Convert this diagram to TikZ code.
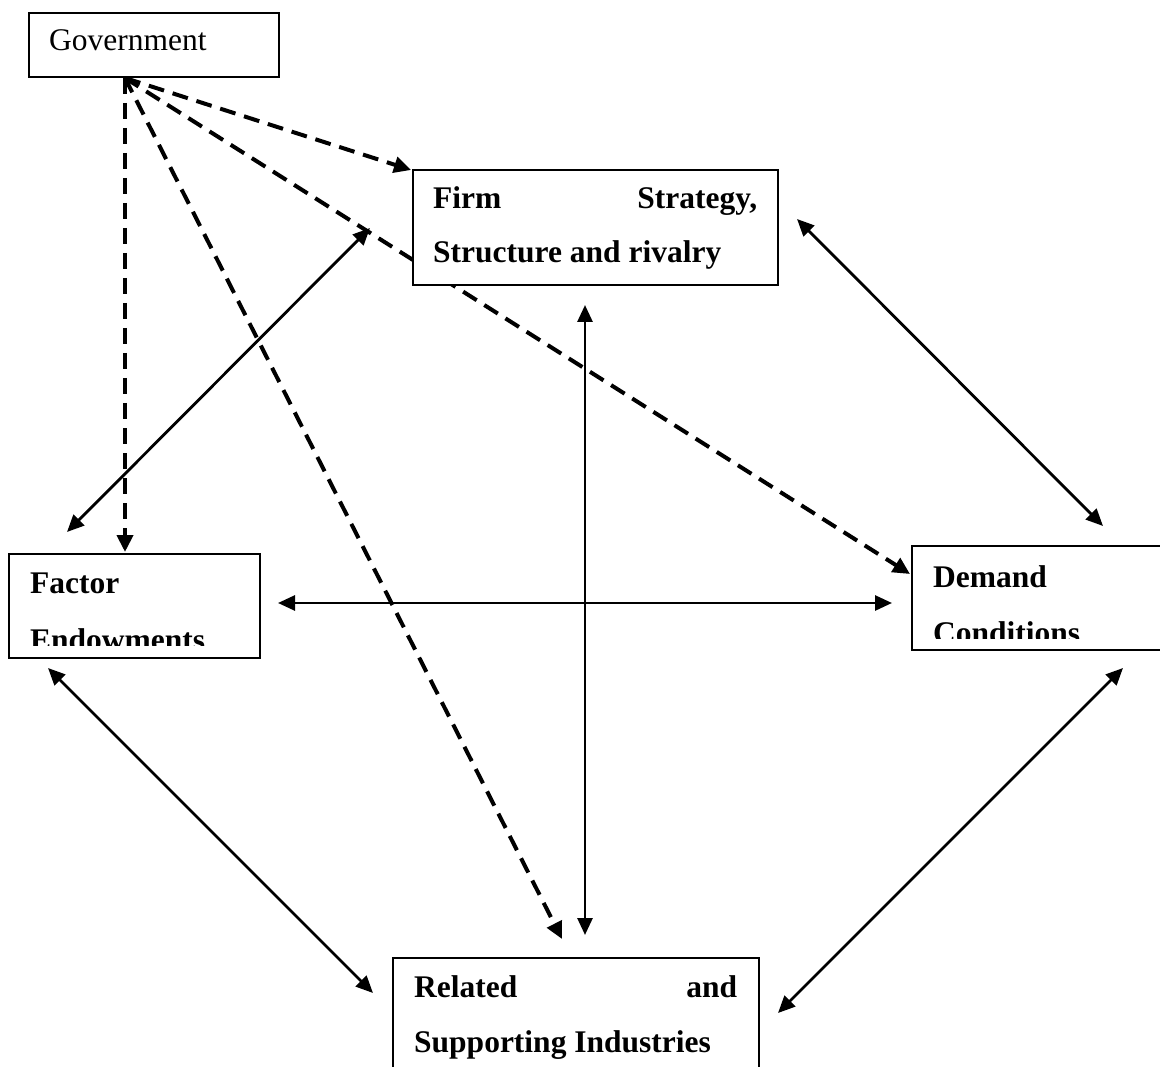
\documentclass[tikz,border=0pt]{standalone}
\usepackage{fontspec}
\setmainfont{Liberation Serif}
\usetikzlibrary{arrows.meta}
\begin{document}
\begin{tikzpicture}[x=1pt,y=-1pt,
  box/.style={draw, line width=2pt, fill=white, rectangle, anchor=north west, inner sep=0pt},
  lbl/.style={anchor=base west, inner sep=0pt, font=\fontsize{31.5}{36}\selectfont},
  blbl/.style={anchor=base west, inner sep=0pt, font=\fontsize{31.5}{36}\selectfont\bfseries},
  solidarrow/.style={line width=2.8pt, {Triangle[length=17pt,width=15pt]}-{Triangle[length=17pt,width=15pt]}},
  dasharrow/.style={line width=4pt, dash pattern=on 16pt off 9pt, -{Triangle[length=17pt,width=16pt]}}
]
\useasboundingbox (0,0) rectangle (1160,1067);

% coordinates of connector ends
\coordinate (g0) at (125,78);
\coordinate (dF) at (125,552);
\coordinate (dS) at (411,170);
\coordinate (dD) at (910,574);
\coordinate (dR) at (562,939);

\coordinate (sfA) at (370,228);
\coordinate (faA) at (67,532);
\coordinate (sdA) at (797,219);
\coordinate (deA) at (1103,526);
\coordinate (vT) at (585,305);
\coordinate (vB) at (585,935);
\coordinate (hL) at (278,603);
\coordinate (hR) at (892,603);
\coordinate (frA) at (48,668);
\coordinate (reA) at (373,993);
\coordinate (drA) at (1123,668);
\coordinate (rdA) at (778,1013);

% connectors (drawn under the boxes)
\draw[dasharrow] (g0) -- (dF);
\draw[dasharrow] (g0) -- (dS);
\draw[dasharrow] (g0) -- (dD);
\draw[dasharrow] (g0) -- (dR);

\draw[solidarrow] (sfA) -- (faA);
\draw[solidarrow] (sdA) -- (deA);
\draw[solidarrow] (vT) -- (vB);
\draw[solidarrow] (hL) -- (hR);
\draw[solidarrow] (frA) -- (reA);
\draw[solidarrow] (drA) -- (rdA);

% boxes
\node[box, minimum width=250pt, minimum height=64pt] (gov) at (28,12) {};
\node[box, minimum width=365pt, minimum height=115pt] (firm) at (412,169) {};
\node[box, minimum width=251pt, minimum height=104pt] (factor) at (8,553) {};
\node[box, minimum width=260pt, minimum height=104pt] (demand) at (911,545) {};
\node[box, minimum width=366pt, minimum height=130pt] (related) at (392,957) {};

% texts
\node[lbl] (govt) at (49,51) {Government};

\node[blbl] (firm1) at (433,209) {\makebox[324pt][s]{Firm Strategy,}};
\node[blbl] (firm2) at (433,263) {Structure and rivalry};

\node[blbl] (fac1) at (30,593) {Factor};
\begin{scope}
  \clip (10,600) rectangle (256,645);
  \node[blbl] (fac2) at (30,650) {Endowments};
\end{scope}

\node[blbl] (dem1) at (933,587) {Demand};
\begin{scope}
  \clip (913,595) rectangle (1160,638);
  \node[blbl] (dem2) at (933,643) {Conditions};
\end{scope}

\node[blbl] (rel1) at (414,997) {\makebox[323pt][s]{Related and}};
\node[blbl] (rel2) at (414,1052) {Supporting Industries};
\end{tikzpicture}
\end{document}
